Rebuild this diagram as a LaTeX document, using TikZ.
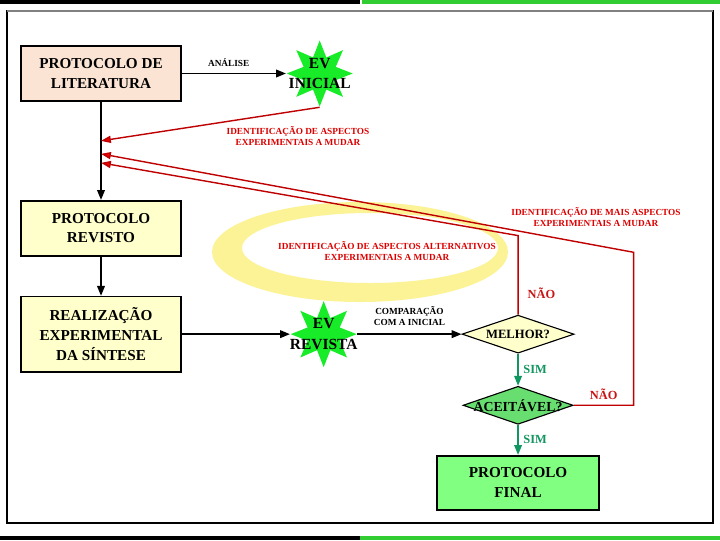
\documentclass[tikz,border=0pt]{standalone}
\usepackage{fontspec}
\setmainfont{Liberation Serif}
\usepackage{xcolor}
\usepackage{tikz}
\usetikzlibrary{arrows.meta,shapes.geometric,positioning,calc}
\definecolor{litpeach}  {RGB}{251,228,212}
\definecolor{revyellow} {RGB}{255,255,204}
\definecolor{okgreen}   {RGB}{104,222,112}
\definecolor{fingreen}  {RGB}{128,255,128}
\definecolor{stargreen} {RGB}{24,236,40}
\definecolor{simgreen}  {RGB}{16,150,96}
\definecolor{naored}    {RGB}{200,20,20}
\definecolor{backred}   {RGB}{190,0,0}
\definecolor{tipred}    {RGB}{240,0,0}
\definecolor{lblred}    {RGB}{220,0,0}
\definecolor{swoosh}    {RGB}{252,243,150}
\definecolor{bargreen}  {RGB}{50,205,50}
\definecolor{framegray} {RGB}{128,128,128}
\tikzset{
  stepbox/.style={draw, line width=1.2pt, align=center,
                  minimum width=4cm, minimum height=1.375cm,
                  font=\bfseries\fontsize{10.8}{14}\selectfont, inner sep=2pt},
  litbox/.style ={stepbox, fill=litpeach},
  revbox/.style ={stepbox, fill=revyellow},
  finbox/.style ={stepbox, fill=fingreen, minimum width=4.05cm, minimum height=1.35cm},
  evstar/.style ={star, star points=8, star point ratio=1.9, fill=stargreen,
                  minimum size=1.65cm, inner sep=0pt},
  evtext/.style ={align=center, font=\bfseries\fontsize{11}{14.5}\selectfont},
  decis/.style  ={diamond, draw, line width=0.8pt, minimum width=2.8cm,
                  minimum height=0.95cm, inner sep=0pt},
  dectext/.style={font=\bfseries\fontsize{9}{10}\selectfont},
  lbl/.style    ={align=center, font=\bfseries\fontsize{6.6}{8}\selectfont},
  redlbl/.style ={lbl, text=lblred},
  anslbl/.style ={font=\bfseries\fontsize{8.8}{10}\selectfont},
  arr/.style    ={-{Triangle[length=7pt,width=5.5pt]}, line width=1pt},
  garr/.style   ={arr, draw=simgreen},
  rarr/.style   ={-{Triangle[length=7pt,width=5pt,fill=tipred]}, line width=1pt, draw=backred},
}
\begin{document}
\begin{tikzpicture}[x=0.025cm, y=-0.025cm]
  \useasboundingbox (0,0) rectangle (720,540);
  % page bars and frame
  \fill[black] (0,0) rectangle (360,4);
  \fill[bargreen] (362,0) rectangle (720,4);
  \fill[black] (0,536) rectangle (360,540);
  \fill[bargreen] (360,536) rectangle (720,540);
  \draw[line width=0.8pt] (7,11) rectangle (713,523);
  \draw[framegray, line width=2pt] (7,11) -- (713,11);
  \draw[line width=1.5pt] (7,523) -- (713,523);
  % watermark
  \fill[swoosh, even odd rule] (360,252) ellipse [x radius=148, y radius=50]
                               (370,248) ellipse [x radius=128, y radius=35];

  \node[litbox] (lit) at (101,73.5) {PROTOCOLO DE\\LITERATURA};
  \node[revbox, below=2.45cm of lit] (rev) {PROTOCOLO\\REVISTO};
  \node[revbox, below=0.98cm of rev, minimum height=1.875cm] (real)
        {REALIZAÇÃO\\EXPERIMENTAL\\DA SÍNTESE};

  \node[evstar, right=2.6cm of lit] (evini) {};
  \node[evtext] (evinitxt) at (evini) {EV\\INICIAL};
  \node[evstar, right=2.7cm of real] (evrev) {};
  \node[evtext] (evrevtxt) at (evrev) {EV\\REVISTA};

  \node[decis, fill=revyellow, right=2.6cm of evrev] (melhor) {};
  \node[dectext] (melhortxt) at (melhor) {MELHOR?};
  \node[decis, fill=okgreen, minimum width=2.75cm, below=0.8cm of melhor] (aceit) {};
  \node[dectext, font=\bfseries\fontsize{9.8}{11}\selectfont] (aceittxt) at (aceit) {ACEITÁVEL?};
  \node[finbox, below=0.75cm of aceit] (final) {PROTOCOLO\\FINAL};

  \node[redlbl] (lidasp)  at (298,136) {IDENTIFICAÇÃO DE ASPECTOS\\EXPERIMENTAIS A MUDAR};
  \node[redlbl] (lidmais) at (596,217) {IDENTIFICAÇÃO DE MAIS ASPECTOS\\EXPERIMENTAIS A MUDAR};
  \node[redlbl] (lidalt)  at (387,251) {IDENTIFICAÇÃO DE ASPECTOS ALTERNATIVOS\\EXPERIMENTAIS A MUDAR};

  \coordinate (ret1) at ($(lit.south)+(0,39)$);
  \coordinate (ret2) at ($(lit.south)+(0,52)$);
  \coordinate (ret3) at ($(lit.south)+(0,61)$);

  \draw[arr](lit)--(rev);\draw[arr](rev)--(real);
  \draw[arr](lit.east)--node[lbl, above, yshift=1pt, pos=0.45] (lanal) {ANÁLISE}(evini.west);
  \draw[arr](real.east)--(evrev.west);
  \draw[arr](evrev.east)--node[lbl, above, yshift=2pt] (lcomp) {COMPARAÇÃO\\COM A INICIAL}(melhor.west);
  \draw[garr](melhor.south)--node[anslbl, right, text=simgreen] (lsim1) {SIM}(aceit.north);
  \draw[garr](aceit.south)--node[anslbl, right, text=simgreen] (lsim2) {SIM}(final.north);
  \draw[rarr](evini.south)--(ret1);
  \draw[rarr](melhor.north)--node[anslbl, right, pos=0.27, xshift=3pt, text=naored] (lnao1) {NÃO}
        ++(0,-79) coordinate (cnr1)--(ret3);
  \draw[rarr](aceit.east)--node[anslbl, above, text=naored] (lnao2) {NÃO}
        ++(60,0) coordinate (cnr2)--++(0,-153) coordinate (cnr3)--(ret2);
\end{tikzpicture}
\end{document}
